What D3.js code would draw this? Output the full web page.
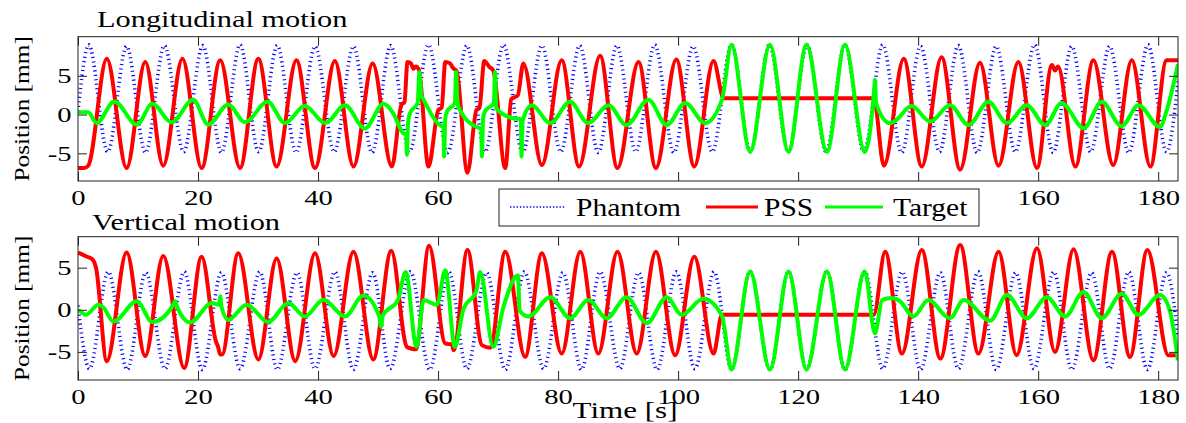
<!DOCTYPE html>
<html>
<head>
<meta charset="utf-8">
<script src="https://cdn.jsdelivr.net/npm/d3@7"></script>
<style>
  html, body { margin: 0; padding: 0; background: #fff; }
  svg { display: block; }
</style>
</head>
<body>
<svg id="chart" width="1186" height="423"></svg>
<script>
// ---- axis ticks ----
const timeTicks = [0, 20, 40, 60, 80, 100, 120, 140, 160, 180];
const posTicks = [-5, 0, 5];
const seriesNames = ["Phantom", "PSS", "Target"];

// ---- longitudinal motion: [time s, position mm] ----
const longPhantom = [
  [0,0.4],[1.8,9.0],[4.95,-4.8],[8.1,8.8],[11.25,-4.9],[14.4,8.9],[17.6,-4.8],[20.8,8.9],[23.9,-4.9],
  [27.0,9.0],[30.1,-4.8],[33.2,8.9],[36.35,-4.9],[39.5,8.8],[42.7,-4.8],[45.9,8.8],[49.0,-4.9],
  [52.1,8.9],[55.25,-4.8],[58.4,9.0],[61.6,-4.9],[64.8,8.9],[67.85,-4.8],[70.9,9.0],[74.1,-4.9],
  [77.3,8.9],[80.45,-4.8],[83.6,8.9],[86.7,-4.9],[89.8,8.9],[92.95,-4.8],[96.1,9.0],[99.3,-4.9],
  [102.5,8.8],[105.7,-4.8],[108.9,9.0],[112.05,-4.8],[115.2,9.0],[118.35,-4.8],[121.5,9.0],
  [124.65,-4.8],[127.8,9.0],[130.95,-4.8],[134.1,9.0],[137.25,-4.9],[140.4,8.8],[143.55,-4.8],
  [146.7,8.9],[149.85,-4.9],[153.0,8.8],[156.2,-4.8],[159.4,9.0],[162.5,-4.9],[165.6,8.8],
  [168.75,-4.8],[171.9,8.8],[175.1,-4.9],[178.3,9.0],[181.4,-4.8],[183.3,4.3]
];
const longPSS = [
  [0,-6.9],[1.0,-6.9],[1.7,-6.6],[4.8,7.2],[8.1,-6.9],[11.2,6.8],[14.2,-6.6],[17.4,7.2],[20.6,-6.9],
  [23.7,7.0],[27.0,-6.9],[30.05,7.2],[33.1,-6.7],[36.4,7.0],[39.5,-6.9],[42.8,6.9],[45.9,-6.7],
  [49.1,6.6],[52.3,-6.7],[53.9,1.3],[54.4,1.6],[54.9,6.8],[55.5,6.6],[55.9,5.9],[56.3,6.2],[56.8,5.8],
  [58.4,-6.7],[60.05,0.6],[60.6,0.9],[61.2,6.8],[62.0,6.6],[62.5,6.0],[63.1,5.6],[64.9,-7.5],
  [66.4,0.6],[66.9,0.9],[67.7,6.9],[68.5,6.2],[69.2,5.7],[71.2,-6.9],[72.2,2.0],[73.3,2.5],
  [74.2,6.6],[77.3,-6.5],[80.6,7.0],[83.5,-6.7],[87.0,7.6],[89.9,-6.9],[93.4,6.8],[96.3,-6.9],
  [99.7,7.1],[102.7,-6.7],[105.9,6.9],[107.6,2.1],[108.2,2.1],[132.6,2.1],[134.3,-6.6],[137.6,7.2],
  [140.6,-6.7],[143.9,7.4],[147.0,-7.1],[150.3,6.7],[153.4,-6.6],[156.7,6.8],[159.8,-6.9],
  [162.3,6.4],[162.8,5.7],[163.3,6.2],[166.2,-6.7],[169.2,7.0],[172.5,-6.5],[175.6,7.0],
  [178.7,-6.7],[181.4,7.0],[183.3,7.0]
];
const longTarget = [
  [0,0.3],[1.7,0.3],[3.1,-1.1],[6.05,1.7],[9.8,-1.3],[12.4,1.4],[15.6,-1.0],[19.2,1.9],[21.7,-1.3],
  [25.05,1.3],[27.8,-1.0],[31.6,1.65],[34.5,-1.1],[37.8,1.1],[41.2,-1.1],[44.5,1.2],[47.8,-1.8],
  [50.9,1.4],[52.5,0.2],[54.2,-2.4],[54.7,-2.6],[54.8,-5.2],[55.0,-1.0],[55.3,0.15],[56.6,1.5],
  [56.9,5.5],[57.2,2.5],[57.6,1.9],[60.3,-1.35],[60.9,-1.5],[61.0,-5.4],[61.2,-0.5],[61.5,0.4],
  [62.8,1.5],[63.0,5.5],[63.2,2.0],[63.4,1.0],[66.4,-1.6],[67.2,-1.8],[67.3,-5.4],[67.5,-0.5],
  [67.8,0.4],[69.3,1.5],[69.5,5.5],[69.7,0.8],[72.6,-0.5],[73.8,-0.6],[73.9,-5.4],[74.1,-0.8],
  [74.3,-0.3],[75.6,1.2],[78.7,-1.1],[82.0,1.65],[85.0,-1.1],[88.4,1.2],[91.4,-1.35],[95.05,1.9],
  [98.1,-1.35],[101.2,1.5],[104.5,-1.1],[107.3,1.9],[108.9,9.0],[112.0,-4.8],[115.3,9.0],
  [118.4,-4.8],[121.4,9.0],[124.8,-4.8],[127.8,9.0],[131.1,-4.8],[132.7,3.5],[132.8,4.5],
  [133.0,1.4],[135.3,-1.1],[136.2,-0.8],[138.9,1.1],[142.0,-0.9],[145.3,1.2],[148.4,-1.35],
  [151.7,1.65],[154.8,-1.1],[158.1,1.2],[161.2,-1.35],[163.9,1.5],[167.6,-1.75],[170.6,1.65],
  [173.9,-1.5],[176.7,1.2],[180.3,-1.6],[181.4,0.5],[183.3,6.5]
];

// ---- vertical motion: [time s, position mm] ----
const vertPhantom = [
  [0,0.5],[1.9,-7.0],[5.05,4.5],[8.2,-7.1],[11.3,4.4],[14.5,-7.0],[17.7,4.5],[20.7,-7.1],[23.9,4.4],
  [27.0,-7.0],[30.3,4.5],[33.2,-7.1],[36.5,4.4],[39.5,-7.0],[42.8,4.5],[45.9,-7.1],[49.1,4.4],
  [52.0,-7.0],[55.4,4.5],[58.6,-7.1],[61.8,4.5],[64.8,-7.0],[68.1,4.4],[71.2,-7.1],[74.4,4.5],
  [77.6,-7.0],[80.8,4.4],[83.9,-7.1],[87.0,4.5],[90.3,-7.0],[93.4,4.4],[96.5,-7.1],[99.7,4.5],
  [102.8,-7.0],[106.0,4.5],[108.9,-7.1],[112.0,4.55],[115.3,-7.1],[118.4,4.55],[121.4,-7.1],
  [124.8,4.55],[127.8,-7.1],[131.1,4.55],[134.1,-7.0],[137.35,4.5],[140.4,-7.1],[143.7,4.4],
  [146.7,-7.0],[150.0,4.5],[153.0,-7.1],[156.25,4.4],[159.3,-7.0],[162.6,4.5],[165.6,-7.1],
  [168.9,4.4],[171.9,-7.0],[175.1,4.5],[178.2,-7.1],[181.4,4.4],[183.3,-3.2]
];
const vertPSS = [
  [0,6.8],[1.5,6.3],[2.4,6.0],[3.0,5.0],[4.8,-6.1],[8.1,6.8],[11.2,-5.5],[14.2,6.4],[17.7,-6.9],
  [20.6,6.3],[23.0,-3.8],[23.3,-4.3],[23.7,-5.3],[24.0,-5.3],[26.7,6.7],[30.05,-5.9],[33.1,6.1],
  [36.2,-6.1],[39.5,6.7],[42.6,-5.5],[45.9,6.9],[49.2,-5.9],[52.2,7.0],[54.8,-4.4],[55.5,-4.6],
  [56.3,-4.7],[58.5,7.6],[61.2,-4.0],[62.3,-4.1],[62.6,-4.8],[64.9,7.1],[67.3,-4.2],[68.7,-4.5],
  [71.2,6.9],[74.5,-5.6],[77.3,6.7],[80.6,-5.2],[83.7,6.9],[86.7,-5.2],[89.9,6.9],[93.1,-5.2],
  [96.3,6.9],[99.5,-5.4],[102.7,6.3],[105.9,-5.2],[107.3,-0.6],[108.0,-0.6],[132.6,-0.6],
  [134.5,6.9],[137.3,-5.2],[140.6,7.1],[143.7,-5.8],[147.0,7.7],[150.05,-5.2],[153.4,6.9],
  [156.4,-5.4],[159.8,7.3],[162.8,-5.0],[165.9,7.2],[169.2,-6.0],[172.3,6.9],[175.3,-5.6],
  [178.2,7.1],[181.7,-5.4],[183.3,-5.4]
];
const vertTarget = [
  [0,0],[0.8,-0.4],[1.3,-0.6],[3.4,0.6],[4.2,0.3],[5.9,-1.4],[9.8,1.0],[12.4,-1.45],[15.8,0.5],
  [16.2,1.0],[16.5,0.4],[18.7,-1.5],[22.3,0.8],[23.5,0.6],[23.7,1.6],[23.9,0.4],[25.05,-1.2],
  [28.1,0.6],[31.7,-1.45],[35.05,0.8],[37.8,-0.8],[40.9,1.2],[44.5,-0.8],[47.55,1.7],[50.2,-0.8],
  [50.5,-2.0],[50.8,-0.7],[53.3,1.15],[54.6,4.5],[56.4,-4.4],[57.6,1.15],[59.8,0.6],[61.2,4.7],
  [62.8,-4.4],[64.2,0],[66.4,2.3],[67.0,4.5],[69.2,-4.4],[70.9,0.35],[73.3,4.1],[73.6,-0.1],
  [75.05,-0.8],[78.7,1.5],[82.0,-1.0],[85.05,1.15],[88.1,-1.0],[91.4,1.5],[94.8,-1.6],[98.1,1.5],
  [100.6,-0.6],[104.2,1.3],[107.3,-0.7],[108.9,-7.1],[112.0,4.55],[115.3,-7.1],[118.4,4.55],
  [121.4,-7.1],[124.8,4.55],[127.8,-7.1],[131.1,4.55],[132.8,-2.8],[134.0,1.15],[135.5,1.4],
  [137.0,1.0],[139.2,-0.8],[141.7,1.15],[145.3,-1.0],[147.6,1.15],[152.0,-1.3],[154.8,1.75],
  [158.1,-1.0],[161.45,1.5],[164.5,-0.8],[167.55,2.1],[170.6,-1.0],[173.9,1.9],[176.7,-0.6],
  [180.3,1.75],[181.9,0],[183.3,-6.0]
];

// ---- layout ----
const svg = d3.select("#chart");
const FONT = "'Liberation Serif', 'Times New Roman', Times, 'DejaVu Serif', serif";
const plotLeft = 78, plotRight = 1178;
const timeMax = 183.3;
const stretch = 1.3;           // wide serif lettering
const colors = { Phantom: "#0000ff", PSS: "#ff0000", Target: "#00ff00" };
const legendBox = { x: 499, y: 189, w: 480, h: 37 };

const panels = [
  { id: "long", title: "Longitudinal motion", titleX: 97, titleY: 27,
    top: 36.7, bottom: 181, yDomain: [-8.57, 10.05],
    phantom: longPhantom, pss: longPSS, target: longTarget },
  { id: "vert", title: "Vertical motion", titleX: 92, titleY: 229.5,
    top: 236.7, bottom: 380, yDomain: [-8.34, 8.68],
    phantom: vertPhantom, pss: vertPSS, target: vertTarget }
];

const x = d3.scaleLinear().domain([0, timeMax]).range([plotLeft, plotRight]);

function stretchedText(parent, str, px, py, size, anchor, sx) {
  return parent.append("text")
    .attr("transform", `translate(${px},${py}) scale(${sx},1)`)
    .attr("text-anchor", anchor || "start")
    .style("font-family", FONT)
    .style("font-size", size + "px")
    .attr("fill", "#000")
    .text(str);
}

panels.forEach((p, i) => {
  const y = d3.scaleLinear().domain(p.yDomain).range([p.bottom, p.top]);
  const g = svg.append("g").attr("class", "panel-" + p.id);

  g.append("clipPath").attr("id", "clip-" + p.id)
    .append("rect")
    .attr("x", plotLeft).attr("y", p.top)
    .attr("width", plotRight - plotLeft).attr("height", p.bottom - p.top);

  const line = d3.line()
    .x(d => x(d[0]))
    .y(d => y(d[1]))
    .curve(d3.curveMonotoneX);

  const lines = g.append("g").attr("clip-path", `url(#clip-${p.id})`);
  lines.append("path").datum(p.phantom)
    .attr("d", line).attr("fill", "none")
    .attr("stroke", colors.Phantom).attr("stroke-width", 3.6)
    .attr("stroke-dasharray", "1.1 3.4");
  lines.append("path").datum(p.pss)
    .attr("d", line).attr("fill", "none")
    .attr("stroke", colors.PSS).attr("stroke-width", 4)
    .attr("stroke-linejoin", "round");
  lines.append("path").datum(p.target)
    .attr("d", line).attr("fill", "none")
    .attr("stroke", colors.Target).attr("stroke-width", 4)
    .attr("stroke-linejoin", "round");

  // time labels of the upper panel that sit under the legend box are left blank
  const hidden = t => i === 0 && x(t) > legendBox.x && x(t) < legendBox.x + legendBox.w;

  // axes: inward ticks on all four sides
  const tickLen = 9;
  const axB = g.append("g").attr("transform", `translate(0,${p.bottom})`)
    .call(d3.axisBottom(x).tickValues(timeTicks).tickSizeInner(-tickLen).tickSizeOuter(0).tickPadding(8)
      .tickFormat(t => hidden(t) ? "" : String(t)));
  const axT = g.append("g").attr("transform", `translate(0,${p.top})`)
    .call(d3.axisTop(x).tickValues(timeTicks).tickSizeInner(-tickLen).tickSizeOuter(0).tickFormat(""));
  const axL = g.append("g").attr("transform", `translate(${plotLeft},0)`)
    .call(d3.axisLeft(y).tickValues(posTicks).tickSizeInner(-tickLen).tickSizeOuter(0).tickPadding(5)
      .tickFormat(d => d < 0 ? "-" + Math.abs(d) : String(d)));
  const axR = g.append("g").attr("transform", `translate(${plotRight},0)`)
    .call(d3.axisRight(y).tickValues(posTicks).tickSizeInner(-tickLen).tickSizeOuter(0).tickFormat(""));

  [axB, axT, axL, axR].forEach(a => {
    a.attr("font-family", null).attr("font-size", null);
    a.select(".domain").remove();
    a.selectAll(".tick line").attr("stroke", "#222").attr("stroke-width", 1);
  });
  axB.selectAll(".tick text")
    .attr("fill", "#000")
    .style("font-family", FONT).style("font-size", "22px").attr("dy", "0.71em")
    .attr("transform", `scale(${stretch},1)`);
  axL.selectAll(".tick text")
    .attr("fill", "#000")
    .style("font-family", FONT).style("font-size", "22px")
    .attr("transform", `scale(${stretch},1)`);

  // frame
  g.append("rect")
    .attr("x", plotLeft).attr("y", p.top)
    .attr("width", plotRight - plotLeft).attr("height", p.bottom - p.top)
    .attr("fill", "none").attr("stroke", "#222").attr("stroke-width", 1);

  // title and y label
  stretchedText(g, p.title, p.titleX, p.titleY, 22.5, "start", 1.35);
  g.append("text")
    .attr("transform", `translate(28.5,${(p.top + p.bottom) / 2}) rotate(-90) scale(1.15,1)`)
    .attr("text-anchor", "middle")
    .style("font-family", FONT)
    .style("font-size", "22px")
    .attr("fill", "#000")
    .text("Position [mm]");
});

// x label
stretchedText(svg, "Time [s]", 625, 418, 22.5, "middle", 1.38);

// legend
const legend = svg.append("g").attr("class", "legend");
legend.append("rect")
  .attr("x", legendBox.x).attr("y", legendBox.y).attr("width", legendBox.w).attr("height", legendBox.h)
  .attr("fill", "#fff").attr("stroke", "#222").attr("stroke-width", 1);
const legendItems = [
  { name: seriesNames[0], x0: 510, x1: 566, tx: 576, dash: "1.4 1.9", w: 1.3 },
  { name: seriesNames[1], x0: 706, x1: 758, tx: 764, dash: null, w: 3 },
  { name: seriesNames[2], x0: 825, x1: 883, tx: 893, dash: null, w: 3 }
];
legendItems.forEach(it => {
  legend.append("line")
    .attr("x1", it.x0).attr("x2", it.x1).attr("y1", 207).attr("y2", 207)
    .attr("stroke", colors[it.name]).attr("stroke-width", it.w)
    .attr("stroke-dasharray", it.dash);
  stretchedText(legend, it.name, it.tx, 216, 25, "start", 1.18);
});
</script>
</body>
</html>
